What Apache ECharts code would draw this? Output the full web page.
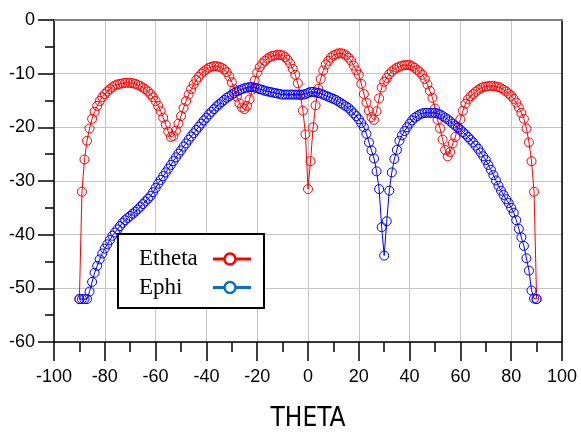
<!DOCTYPE html>
<html>
<head>
<meta charset="utf-8">
<script src="https://cdn.jsdelivr.net/npm/echarts@6/dist/echarts.min.js"></script>
<style>
  html, body { margin: 0; padding: 0; background: #ffffff; }
  #chart { width: 581px; height: 437px; }
</style>
</head>
<body>
<div id="chart"></div>
<script>
// Scan angle, one sample per degree from -90 to 90
const theta = Array.from({ length: 181 }, (_, i) => i - 90);

// Co-polar field pattern (dB)
const etheta = [
  -52, -32, -26, -22.5, -20.2, -18.4, -17.1, -16.0, -15.1, -14.4,
  -13.8, -13.3, -12.9, -12.5, -12.2, -12.0, -11.9, -11.8, -11.7, -11.7,
  -11.7, -11.8, -11.9, -12.1, -12.3, -12.6, -12.9, -13.3, -13.8, -14.4,
  -15.1, -16.0, -17.0, -18.2, -19.5, -20.8, -21.8, -21.6, -20.6, -19.3,
  -17.9, -16.4, -15.1, -13.9, -12.9, -12.0, -11.2, -10.6, -10.0, -9.6,
  -9.2, -8.9, -8.7, -8.6, -8.6, -8.7, -8.9, -9.2, -9.7, -10.5,
  -11.6, -12.9, -14.3, -15.5, -16.3, -16.6, -16.0, -14.8, -13.0, -11.3,
  -9.8, -8.8, -8.1, -7.6, -7.2, -6.9, -6.7, -6.6, -6.5, -6.5,
  -6.6, -6.9, -7.4, -8.1, -9.1, -10.2, -11.8, -14.0, -16.9, -21.3,
  -31.5,
  -26.3, -20.0, -15.9, -12.8, -11.0, -9.4, -8.3, -7.6, -7.0, -6.6,
  -6.4, -6.2, -6.2, -6.3, -6.6, -7.0, -7.6, -8.5, -9.4, -10.2,
  -11.9, -13.8, -15.4, -16.9, -18.1, -18.6, -17.0, -14.6, -12.6, -11.5,
  -10.8, -10.1, -9.6, -9.2, -8.9, -8.7, -8.5, -8.4, -8.4, -8.4,
  -8.6, -8.9, -9.3, -9.7, -10.2, -11.0, -12.0, -13.2, -14.5, -16.5,
  -18.6, -20.2, -22.3, -24.2, -25.4, -24.6, -23.0, -21.8, -20.0, -18.5,
  -16.9, -15.6, -14.8, -14.2, -13.8, -13.4, -13.0, -12.7, -12.5, -12.4,
  -12.3, -12.3, -12.3, -12.4, -12.5, -12.7, -13.0, -13.3, -13.7, -14.1,
  -14.7, -15.4, -16.3, -17.3, -18.4, -20.2, -22.8, -26.3, -32, -52
];

// Cross-polar field pattern (dB)
const ephi = [
  -52, -52, -52, -52, -50.6, -48.8, -47.1, -45.8, -44.6, -43.5,
  -42.6, -41.8, -41.0, -40.2, -39.6, -39.0, -38.4, -37.8, -37.3, -36.9,
  -36.5, -36.1, -35.7, -35.3, -34.8, -34.3, -33.8, -33.3, -32.8, -32.1,
  -31.3, -30.5, -29.8, -29.1, -28.4, -27.7, -27.0, -26.3, -25.6, -24.9,
  -24.3, -23.6, -23.0, -22.3, -21.7, -21.1, -20.5, -19.9, -19.3, -18.7,
  -18.2, -17.6, -17.1, -16.6, -16.1, -15.7, -15.3, -14.9, -14.5, -14.2,
  -13.9, -13.6, -13.3, -13.1, -12.9, -12.7, -12.6, -12.5, -12.5, -12.6,
  -12.7, -12.9, -13.0, -13.2, -13.3, -13.4, -13.5, -13.6, -13.7, -13.8,
  -13.9, -13.9, -13.9, -13.9, -13.9, -13.9, -13.9, -13.9, -13.9, -13.8,
  -13.6,
  -13.4, -13.4, -13.5, -13.6, -13.7, -13.9, -14.1, -14.3, -14.5, -14.7,
  -14.9, -15.2, -15.5, -15.8, -16.1, -16.4, -16.9, -17.4, -17.9, -18.5,
  -19.2, -20.0, -21.2, -22.8, -24.3, -25.8, -28.2, -31.5, -38.6, -43.9,
  -37.5, -31.8, -28.4, -25.9, -24.2, -22.5, -21.5, -20.7, -20.0, -19.3,
  -18.7, -18.2, -17.9, -17.6, -17.4, -17.3, -17.3, -17.3, -17.3, -17.3,
  -17.4, -17.6, -17.9, -18.2, -18.5, -18.9, -19.3, -19.7, -20.1, -20.4,
  -20.9, -21.3, -21.8, -22.3, -22.8, -23.4, -24.0, -24.7, -25.4, -26.1,
  -27.0, -27.9, -28.9, -29.9, -30.9, -31.8, -32.6, -33.4, -34.1, -35.0,
  -35.9, -37.3, -38.9, -40.5, -42.1, -44.4, -46.7, -50.4, -51.9, -52
];

const seriesNames = ['Etheta', 'Ephi'];
const seriesColors = ['#ff0000', '#0000ff'];
const legendColors = ['#ff0000', '#0b70c2'];

const chart = echarts.init(document.getElementById('chart'), null, { renderer: 'canvas' });

const axisFont = 'Liberation Sans, Arial, sans-serif';

function pairs(values) {
  return theta.map((t, i) => [t, values[i]]);
}

function lineSeries(name, values, color) {
  return {
    name: name,
    type: 'line',
    data: pairs(values),
    symbol: 'circle',
    symbolSize: 9,
    showSymbol: true,
    showAllSymbol: true,
    lineStyle: { color: color, width: 1 },
    itemStyle: { color: 'rgba(0,0,0,0)', borderColor: color, borderWidth: 1 },
    emphasis: { disabled: true },
    z: 3
  };
}

// Legend box, drawn as a small graphic group inside the plot
const legendLeft = 117, legendTop = 233;
const legendItems = seriesNames.map((name, i) => {
  const cy = 25 + i * 28.5;
  return [
    {
      type: 'text', x: 21, y: cy, z: 101,
      style: { text: name, font: '23px "Liberation Serif", "Times New Roman", serif', fill: '#000', verticalAlign: 'middle' }
    },
    {
      type: 'line', z: 101, shape: { x1: 95, y1: cy, x2: 133, y2: cy },
      style: { stroke: legendColors[i], lineWidth: 3 }
    },
    {
      type: 'circle', z: 102, shape: { cx: 112, cy: cy, r: 5.5 },
      style: { stroke: legendColors[i], lineWidth: 2.5, fill: '#fff' }
    }
  ];
}).flat();

const option = {
  animation: false,
  backgroundColor: '#ffffff',
  grid: { left: 54, right: 19, top: 20, bottom: 95, containLabel: false },
  xAxis: [
    {
      type: 'value', min: -100, max: 100, interval: 20,
      name: 'THETA', nameLocation: 'middle', nameGap: 64,
      nameTextStyle: { fontSize: 26, fontFamily: '"Liberation Sans Narrow", "DejaVu Sans Condensed", "Liberation Sans", sans-serif', color: '#000' },
      axisLine: { show: true, onZero: false, lineStyle: { color: '#000', width: 1.5 } },
      axisTick: { show: true, inside: false, length: 19, lineStyle: { color: '#000', width: 1.5 } },
      minorTick: { show: true, splitNumber: 2, length: 10, lineStyle: { color: '#000', width: 1.5 } },
      axisLabel: { fontSize: 18, fontFamily: axisFont, color: '#000', margin: 26, showMinLabel: true, showMaxLabel: true },
      splitLine: { show: true, lineStyle: { color: '#c4c4c4', width: 1 } }
    },
    {
      type: 'value', min: -100, max: 100, position: 'top',
      axisLine: { show: true, onZero: false, lineStyle: { color: '#808080', width: 2 } },
      axisTick: { show: false }, axisLabel: { show: false }, splitLine: { show: false }
    }
  ],
  yAxis: [
    {
      type: 'value', min: -60, max: 0, interval: 10,
      axisLine: { show: true, onZero: false, lineStyle: { color: '#000', width: 1.5 } },
      axisTick: { show: true, inside: false, length: 16, lineStyle: { color: '#000', width: 1.5 } },
      minorTick: { show: true, splitNumber: 2, length: 9, lineStyle: { color: '#000', width: 1.5 } },
      axisLabel: { fontSize: 18, fontFamily: axisFont, color: '#000', margin: 19 },
      splitLine: { show: true, lineStyle: { color: '#c4c4c4', width: 1 } }
    },
    {
      type: 'value', min: -60, max: 0, position: 'right',
      axisLine: { show: true, onZero: false, lineStyle: { color: '#000', width: 1.5 } },
      axisTick: { show: false }, axisLabel: { show: false }, splitLine: { show: false }
    }
  ],
  series: [
    lineSeries(seriesNames[0], etheta, seriesColors[0]),
    lineSeries(seriesNames[1], ephi, seriesColors[1])
  ],
  graphic: [
    {
      type: 'group', left: legendLeft, top: legendTop, z: 100,
      children: [
        { type: 'rect', z: 100, shape: { x: 0, y: 0, width: 146, height: 74 }, style: { fill: '#fff', stroke: '#000', lineWidth: 2 } }
      ].concat(legendItems)
    }
  ]
};

chart.setOption(option);
</script>
</body>
</html>
